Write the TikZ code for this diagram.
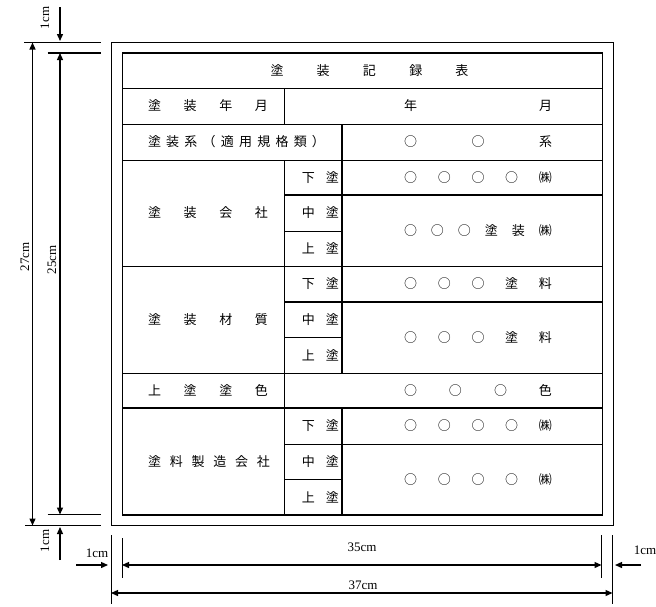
\documentclass[tikz,border=0pt]{standalone}
\usepackage{fontspec}
\newfontfamily\jp{Noto Sans CJK JP}
\newfontfamily\dimfont{Liberation Serif}
\usetikzlibrary{arrows.meta}
\newcommand{\spread}[2]{\makebox[#1pt][s]{#2}}
\tikzset{
  thinline/.style={line width=0.9pt},
  thickline/.style={line width=1.6pt},
  dimline/.style={line width=1.3pt,{Triangle[length=7pt,width=6pt]}-{Triangle[length=7pt,width=6pt]}},
  dimarrow/.style={line width=1.3pt,-{Triangle[length=7pt,width=6pt]}},
  cell/.style={font=\jp\fontsize{13}{15}\selectfont,inner sep=0pt},
  dimtext/.style={font=\dimfont\fontsize{13}{15}\selectfont,inner sep=0pt},
}
\begin{document}
\begin{tikzpicture}[x=1pt,y=-1pt]
	\useasboundingbox (0,0) rectangle (656,606);
	% frame and table
	\draw[line width=1pt] (111,42.5) rectangle (613.5,525.5);
	\draw[thickline] (122.5,53) rectangle (602.5,515);
	\draw[thickline] (122.5,88.5)--(602.5,88.5) (122.5,408)--(602.5,408);
	\foreach \y in {124,160,266,373}{\draw[thinline] (122.5,\y)--(602.5,\y);}
	\foreach \y in {195,302}{\draw[thickline] (284,\y)--(602.5,\y);}
	\draw[thinline] (284,444)--(602.5,444);
	\foreach \y in {231,337,479}{\draw[thinline] (284,\y)--(342,\y);}
	\draw[thinline] (284,88.5)--(284,124) (284,160)--(284,515);
	\draw[thickline] (342,124)--(342,373) (342,408)--(342,515);
	% texts
	\node[cell] (title) at (369.5,70.5) {\spread{198}{塗\hfill 装\hfill 記\hfill 録\hfill 表}};
	\node[cell] (lblDate) at (208,106) {\spread{120}{塗\hfill 装\hfill 年\hfill 月}};
	\node[cell] (lblSystem) at (236.5,142) {\spread{177}{塗\hfill 装\hfill 系\hfill （\hfill 適\hfill 用\hfill 規\hfill 格\hfill 類\hfill ）}};
	\node[cell] (lblPainter) at (208,213) {\spread{120}{塗\hfill 装\hfill 会\hfill 社}};
	\node[cell] (lblMaterial) at (208,319.5) {\spread{120}{塗\hfill 装\hfill 材\hfill 質}};
	\node[cell] (lblColor) at (208,390.5) {\spread{120}{上\hfill 塗\hfill 塗\hfill 色}};
	\node[cell] (lblMaker) at (209,461.5) {\spread{122}{塗\hfill 料\hfill 製\hfill 造\hfill 会\hfill 社}};
	\foreach \y/\t [count=\i] in {177.5/下,213/中,248.5/上,284/下,319.5/中,355/上,426/下,461.5/中,497/上}
		{\node[cell,anchor=east] (coat\i) at (339,\y) {\spread{37}{\t\hfill 塗}};}
	\node[cell] (valDate) at (478,106) {\spread{148}{年\hfill 月}};
	\node[cell] (valSystem) at (478,142) {\spread{148}{○\hfill ○\hfill 系}};
	\node[cell] (valPainterA) at (478,177.5) {\spread{148}{○\hfill ○\hfill ○\hfill ○\hfill ㈱}};
	\node[cell] (valPainterB) at (478,230.5) {\spread{148}{○\hfill ○\hfill ○\hfill 塗\hfill 装\hfill ㈱}};
	\node[cell] (valMaterialA) at (478,284) {\spread{148}{○\hfill ○\hfill ○\hfill 塗\hfill 料}};
	\node[cell] (valMaterialB) at (478,337.5) {\spread{148}{○\hfill ○\hfill ○\hfill 塗\hfill 料}};
	\node[cell] (valColor) at (478,390.5) {\spread{148}{○\hfill ○\hfill ○\hfill 色}};
	\node[cell] (valMakerA) at (478,426) {\spread{148}{○\hfill ○\hfill ○\hfill ○\hfill ㈱}};
	\node[cell] (valMakerB) at (478,479.5) {\spread{148}{○\hfill ○\hfill ○\hfill ○\hfill ㈱}};
	% dimension points
	\coordinate (outerTop) at (32.5,42.5);
	\coordinate (outerBot) at (32.5,525.5);
	\coordinate (innerTop) at (60,53);
	\coordinate (innerBot) at (60,514.5);
	\coordinate (topStart) at (60,7);
	\coordinate (topEnd) at (60,41);
	\coordinate (botStart) at (60,560);
	\coordinate (botEnd) at (60,527);
	\coordinate (outerLeft) at (111,593);
	\coordinate (outerRight) at (612.5,593);
	\coordinate (innerLeft) at (122,565);
	\coordinate (innerRight) at (601.5,565);
	\coordinate (leftStart) at (76,565);
	\coordinate (leftEnd) at (108,565);
	\coordinate (rightStart) at (641,565);
	\coordinate (rightEnd) at (615,565);
	% extension lines
	\draw[thinline] (24,42.5)--(100.5,42.5) (25,525.5)--(100.5,525.5);
	\draw[line width=1.3pt] (47.5,53)--(100.5,53) (47.5,514.5)--(100.5,514.5);
	\draw[thinline] (111,535)--(111,604) (122,538)--(122,578) (612.5,535)--(612.5,604);
	\draw[thickline] (601.5,535)--(601.5,578);
	% dimensions
	\draw[dimline] (outerTop)--(outerBot);
	\draw[dimline] (innerTop)--(innerBot);
	\draw[dimline] (innerLeft)--(innerRight);
	\draw[dimline] (outerLeft)--(outerRight);
	\foreach \a/\b in {topStart/topEnd,botStart/botEnd,leftStart/leftEnd,rightStart/rightEnd}
		{\draw[dimarrow] (\a)--(\b);}
	\node[dimtext,rotate=90] (dimTop) at (45,18) {1cm};
	\node[dimtext,rotate=90] (dimOuterV) at (25,257) {27cm};
	\node[dimtext,rotate=90] (dimInnerV) at (52,260) {25cm};
	\node[dimtext,rotate=90] (dimBot) at (45,541) {1cm};
	\node[dimtext] (dimLeft) at (97,553) {1cm};
	\node[dimtext] (dimInnerH) at (362,547) {35cm};
	\node[dimtext] (dimOuterH) at (363,585) {37cm};
	\node[dimtext] (dimRight) at (645,550) {1cm};
\end{tikzpicture}
\end{document}
